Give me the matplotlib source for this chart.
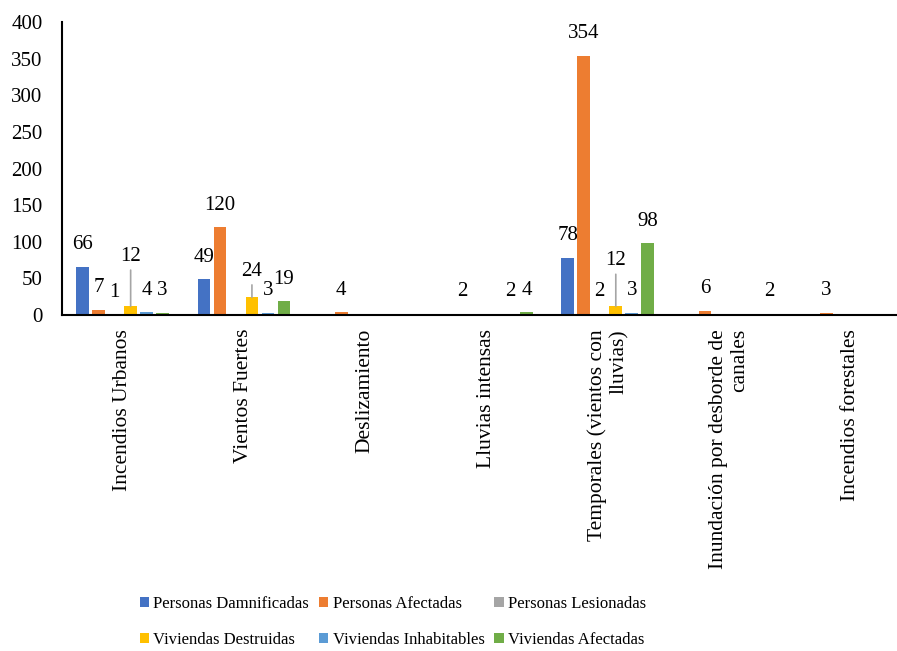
import numpy as np
import matplotlib
matplotlib.use("Agg")
import matplotlib.pyplot as plt

# datos del gráfico
categorias = [
    "Incendios Urbanos",
    "Vientos Fuertes",
    "Deslizamiento",
    "Lluvias intensas",
    "Temporales (vientos con\nlluvias)",
    "Inundación por desborde de\ncanales",
    "Incendios forestales",
]
series = [
    "Personas Damnificadas",
    "Personas Afectadas",
    "Personas Lesionadas",
    "Viviendas Destruidas",
    "Viviendas Inhabitables",
    "Viviendas Afectadas",
]
personas_damnificadas = [66, 49, 0, 0, 78, 0, 0]
personas_afectadas = [7, 120, 4, 2, 354, 6, 3]
personas_lesionadas = [1, 0, 0, 0, 2, 0, 0]
viviendas_destruidas = [12, 24, 0, 0, 12, 0, 0]
viviendas_inhabitables = [4, 3, 0, 2, 3, 0, 0]
viviendas_afectadas = [3, 19, 0, 4, 98, 2, 0]

valores = [personas_damnificadas, personas_afectadas, personas_lesionadas,
           viviendas_destruidas, viviendas_inhabitables, viviendas_afectadas]
colores = ["#4472C4", "#ED7D31", "#A5A5A5", "#FFC000", "#5B9BD5", "#70AD47"]

# etiquetas con línea guía (serie, categoría) -> desplazamiento en pt
guias = {(3, 0): 29, (3, 1): 12, (3, 4): 26}

plt.rcParams["font.family"] = ["Liberation Serif", "DejaVu Serif"]

fig = plt.figure(figsize=(8.97, 6.51), dpi=100)
ax = fig.add_axes([62 / 897, 1 - 315 / 651, 849 / 897, 293 / 651])

x = np.arange(len(categorias))
paso = 0.132
ancho = 0.105
handles = []
for i, (nombre, vals, col) in enumerate(zip(series, valores, colores)):
    pos = x + (i - 2.5) * paso
    b = ax.bar(pos, vals, width=ancho, color=col, label=nombre)
    handles.append(b)
    for j, (px, v) in enumerate(zip(pos, vals)):
        if v == 0:
            continue
        if (i, j) in guias:
            ax.annotate(str(v), xy=(px, v), xytext=(0, guias[(i, j)]),
                        textcoords="offset points", ha="center", va="bottom",
                        fontsize=15,
                        arrowprops=dict(arrowstyle="-", color="#A5A5A5",
                                        lw=1.2, shrinkA=1, shrinkB=0))
        else:
            ax.annotate(str(v), xy=(px, v), xytext=(0, 9),
                        textcoords="offset points", ha="center", va="bottom",
                        fontsize=15)

ax.set_xlim(-0.5, len(categorias) - 0.5)
ax.set_ylim(0, 400)
ax.set_yticks(range(0, 401, 50))
ax.set_xticks(x)
ax.set_xticklabels(categorias, rotation=90, fontsize=15.5, va="top",
                   multialignment="right")
ax.tick_params(axis="x", length=0, pad=10)
ax.tick_params(axis="y", length=0, pad=14, labelsize=15)
for s in ["top", "right"]:
    ax.spines[s].set_visible(False)
for s in ["left", "bottom"]:
    ax.spines[s].set_linewidth(1.5)
    ax.spines[s].set_color("black")

# leyenda en orden por filas
orden = [0, 3, 1, 4, 2, 5]
fig.legend([handles[k] for k in orden], [series[k] for k in orden],
           loc="center", bbox_to_anchor=(393 / 897, 1 - 622 / 651),
           ncol=3, frameon=False, fontsize=12, handlelength=0.55,
           handleheight=0.55, handletextpad=0.25, columnspacing=0.6,
           labelspacing=1.2)

fig.savefig("out.png", dpi=100)
